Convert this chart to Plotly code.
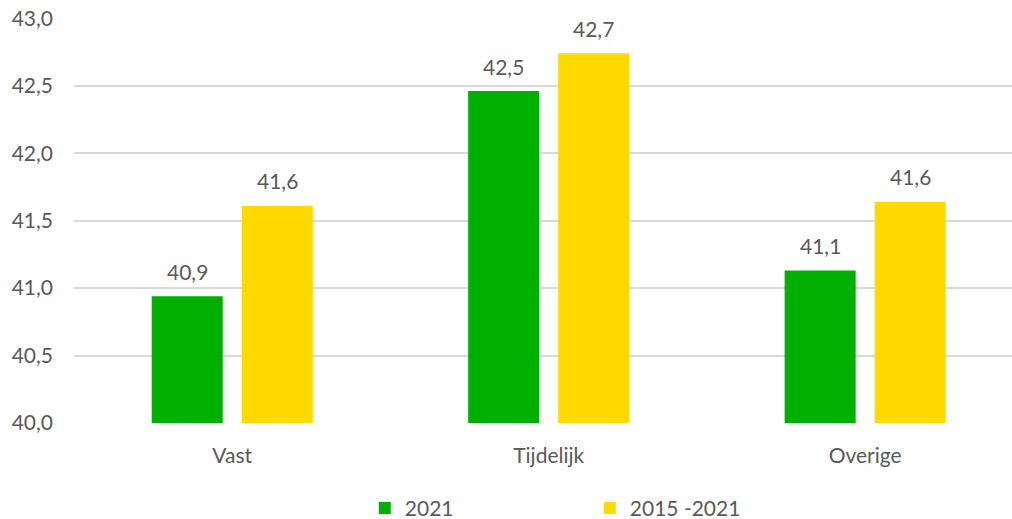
import plotly.graph_objects as go

categories = ["Vast", "Tijdelijk", "Overige"]
series_names = ["2021", "2015 -2021"]
values_2021 = [40.94, 42.46, 41.13]
values_2015_2021 = [41.61, 42.74, 41.64]
y_ticks = [40.0, 40.5, 41.0, 41.5, 42.0, 42.5, 43.0]

GREEN = "#00B000"
YELLOW = "#FFD900"
TEXT = "#595959"
FONT = "Lato, Open Sans, sans-serif"
FS = 21

fig = go.Figure()
fig.add_trace(go.Bar(x=categories, y=values_2021, name=series_names[0],
                     marker=dict(color=GREEN, line=dict(width=0))))
fig.add_trace(go.Bar(x=categories, y=values_2015_2021, name=series_names[1],
                     marker=dict(color=YELLOW, line=dict(width=0))))

# data labels boven de staven
annotations = []
for vals, shift in [(values_2021, -45), (values_2015_2021, 45)]:
    for cat, v in zip(categories, vals):
        annotations.append(dict(
            x=cat, y=v, xref="x", yref="y",
            text=f"{v:.1f}".replace(".", ","),
            showarrow=False, xshift=shift, yshift=25, yanchor="middle",
            font=dict(size=FS, color=TEXT, family=FONT),
        ))

fig.update_layout(
    width=1012, height=519,
    margin=dict(l=74, r=0, t=18, b=96, autoexpand=False),
    paper_bgcolor="white", plot_bgcolor="white",
    font=dict(family=FONT, size=FS, color=TEXT),
    barmode="group", bargap=0.431, bargroupgap=0.211,
    separators=",.",
    annotations=annotations,
    showlegend=True,
    legend=dict(orientation="h", x=0.31, xanchor="left", y=-0.16, yanchor="top",
                entrywidth=180, entrywidthmode="pixels",
                font=dict(size=FS, color=TEXT, family=FONT)),
)
fig.update_xaxes(range=[-0.5, 2.464], showgrid=False, showline=False, zeroline=False,
                 ticks="", ticklabelstandoff=18, automargin=False,
                 tickfont=dict(size=FS, color=TEXT, family=FONT))
fig.update_yaxes(range=[40, 43.002], tickvals=y_ticks, tickformat=".1f",
                 showgrid=True, gridcolor="#D9D9D9", gridwidth=2,
                 zeroline=False, showline=False, ticks="", ticklabelstandoff=20,
                 automargin=False, ticklabeloverflow="allow",
                 tickfont=dict(size=FS, color=TEXT, family=FONT))

# body-marge van de pagina weghalen zodat de figuur precies in het venster past
fig.write_html("out.html", config={"displayModeBar": False},
               post_script="document.body.style.margin='0';document.body.style.overflow='hidden';")
